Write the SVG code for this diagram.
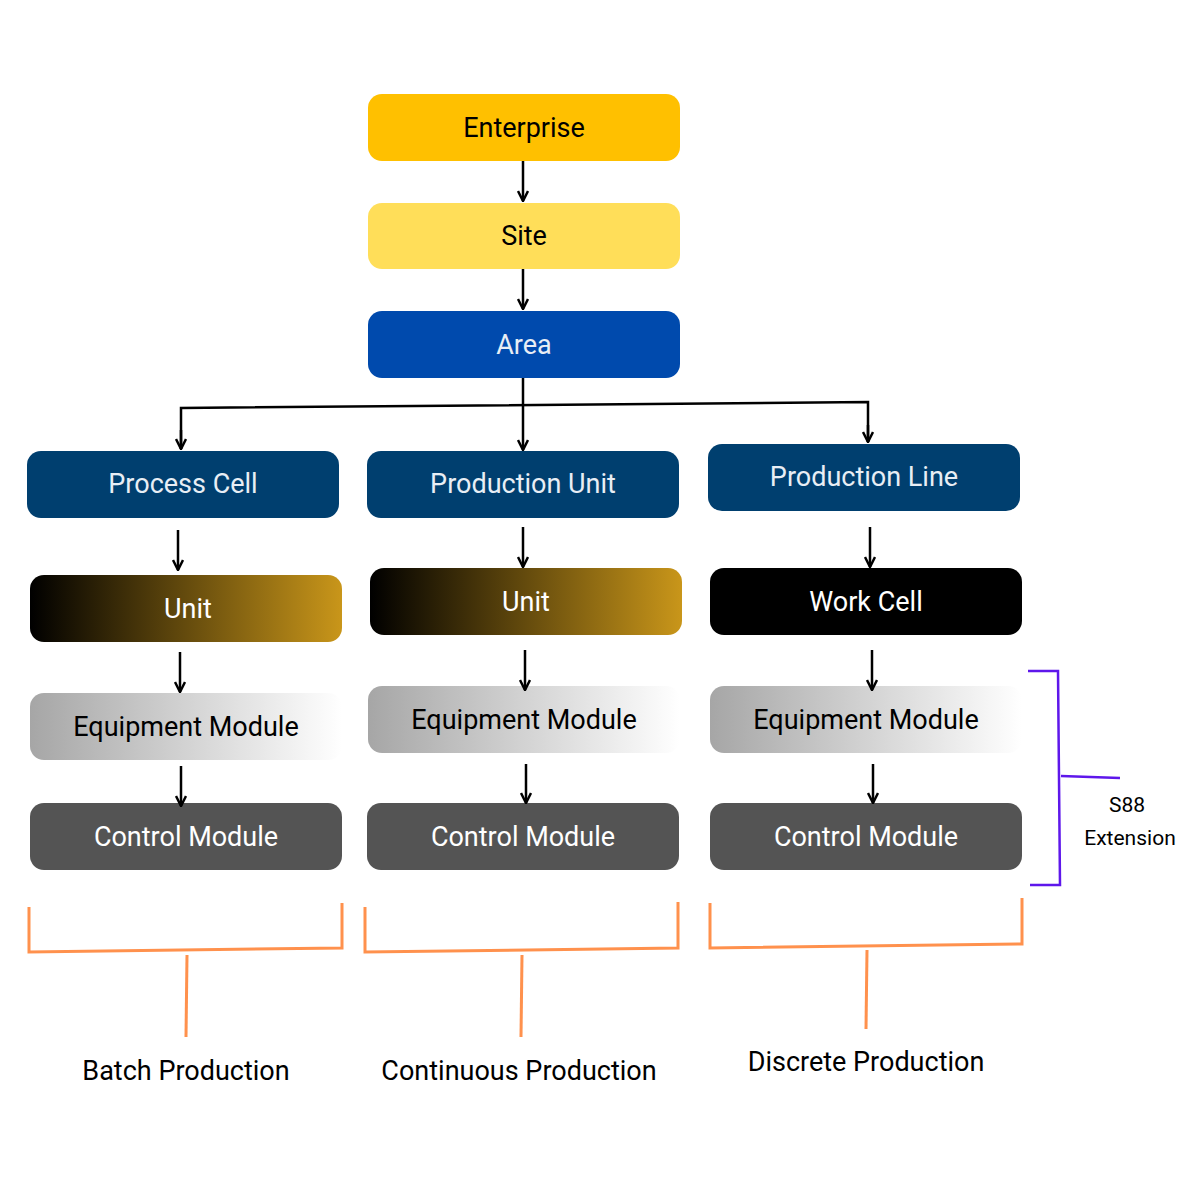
<svg xmlns="http://www.w3.org/2000/svg" width="1200" height="1200" viewBox="0 0 1200 1200">
<defs>
<linearGradient id="gu" x1="0" x2="1" y1="0" y2="0"><stop offset="0" stop-color="#000"/><stop offset="1" stop-color="#C9961A"/></linearGradient>
<linearGradient id="ge" x1="0" x2="1" y1="0" y2="0"><stop offset="0" stop-color="#A6A6A6"/><stop offset="1" stop-color="#fff"/></linearGradient>
<marker id="ah" viewBox="0 0 10 10" refX="9" refY="5" markerWidth="5" markerHeight="5" orient="auto"><path d="M1,1 L9,5 L1,9" fill="none" stroke="#000" stroke-width="2"/></marker>
<style>
text{font-family:Roboto,"Liberation Sans",sans-serif;font-size:27px;text-anchor:middle;dominant-baseline:central}
.w{fill:#e8eef5}.k{fill:#000}
.c line,.c polyline{stroke:#000;stroke-width:2.5;fill:none}
.o{stroke:#FF914D;stroke-width:3;fill:none}
</style>
</defs>
<rect width="1200" height="1200" fill="#fff"/>
<g id="enterprise"><rect x="368" y="94" width="312" height="67" rx="14" fill="#FFC000"/><text x="524" y="128" class="k">Enterprise</text></g>
<g id="site"><rect x="368" y="203" width="312" height="66" rx="14" fill="#FFDE59"/><text x="524" y="236" class="k">Site</text></g>
<g id="area"><rect x="368" y="311" width="312" height="67" rx="14" fill="#004AAD"/><text x="524" y="345" class="w">Area</text></g>
<g id="processcell"><rect x="27" y="451" width="312" height="67" rx="14" fill="#003F6F"/><text x="183" y="484" class="w">Process Cell</text></g>
<g id="productionunit"><rect x="367" y="451" width="312" height="67" rx="14" fill="#003F6F"/><text x="523" y="484" class="w">Production Unit</text></g>
<g id="productionline"><rect x="708" y="444" width="312" height="67" rx="14" fill="#003F6F"/><text x="864" y="477" class="w">Production Line</text></g>
<g id="unit1"><rect x="30" y="575" width="312" height="67" rx="14" fill="url(#gu)"/><text x="188" y="609" fill="#fff">Unit</text></g>
<g id="unit2"><rect x="370" y="568" width="312" height="67" rx="14" fill="url(#gu)"/><text x="526" y="602" fill="#fff">Unit</text></g>
<g id="workcell"><rect x="710" y="568" width="312" height="67" rx="14" fill="#000"/><text x="866" y="602" fill="#fff">Work Cell</text></g>
<g id="em1"><rect x="30" y="693" width="312" height="67" rx="14" fill="url(#ge)"/><text x="186" y="727" class="k">Equipment Module</text></g>
<g id="em2"><rect x="368" y="686" width="312" height="67" rx="14" fill="url(#ge)"/><text x="524" y="720" class="k">Equipment Module</text></g>
<g id="em3"><rect x="710" y="686" width="312" height="67" rx="14" fill="url(#ge)"/><text x="866" y="720" class="k">Equipment Module</text></g>
<g id="cm1"><rect x="30" y="803" width="312" height="67" rx="14" fill="#545454"/><text x="186" y="837" fill="#fff">Control Module</text></g>
<g id="cm2"><rect x="367" y="803" width="312" height="67" rx="14" fill="#545454"/><text x="523" y="837" fill="#fff">Control Module</text></g>
<g id="cm3"><rect x="710" y="803" width="312" height="67" rx="14" fill="#545454"/><text x="866" y="837" fill="#fff">Control Module</text></g>
<g id="connectors" class="c">
<line x1="523" y1="161" x2="523" y2="201" marker-end="url(#ah)"/>
<line x1="523" y1="269" x2="523" y2="309" marker-end="url(#ah)"/>
<line x1="523" y1="378" x2="523" y2="450" marker-end="url(#ah)"/>
<polyline points="181,449 181,408 868,402 868,442"/>
<line x1="181" y1="430" x2="181" y2="449" marker-end="url(#ah)"/>
<line x1="868" y1="425" x2="868" y2="442" marker-end="url(#ah)"/>
<line x1="178" y1="530" x2="178" y2="570" marker-end="url(#ah)"/>
<line x1="523" y1="527" x2="523" y2="567" marker-end="url(#ah)"/>
<line x1="870" y1="527" x2="870" y2="567" marker-end="url(#ah)"/>
<line x1="180" y1="652" x2="180" y2="692" marker-end="url(#ah)"/>
<line x1="525" y1="650" x2="525" y2="690" marker-end="url(#ah)"/>
<line x1="872" y1="650" x2="872" y2="690" marker-end="url(#ah)"/>
<line x1="181" y1="766" x2="181" y2="806" marker-end="url(#ah)"/>
<line x1="526" y1="764" x2="526" y2="803" marker-end="url(#ah)"/>
<line x1="873" y1="764" x2="873" y2="803" marker-end="url(#ah)"/>
</g>
<g id="brackets">
<polyline class="o" points="29,907 29,952 342,948 342,903"/><line class="o" x1="187" y1="955" x2="186" y2="1037"/>
<polyline class="o" points="365,907 365,952 678,948 678,902"/><line class="o" x1="522" y1="955" x2="521" y2="1037"/>
<polyline class="o" points="710,903 710,948 1022,944 1022,898"/><line class="o" x1="867" y1="950" x2="866" y2="1029"/>
<polyline points="1028,671 1058,671 1060,885 1030,885" fill="none" stroke="#5E17EB" stroke-width="2.5"/>
<line x1="1061" y1="776" x2="1120" y2="778" stroke="#5E17EB" stroke-width="2.5"/>
</g>
<g id="labels">
<text x="186" y="1071" class="k">Batch Production</text>
<text x="519" y="1071" class="k">Continuous Production</text>
<text x="866" y="1062" class="k">Discrete Production</text>
<text x="1127" y="805" class="k" style="font-size:21px">S88</text>
<text x="1130" y="838" class="k" style="font-size:21px">Extension</text>
</g>
</svg>
